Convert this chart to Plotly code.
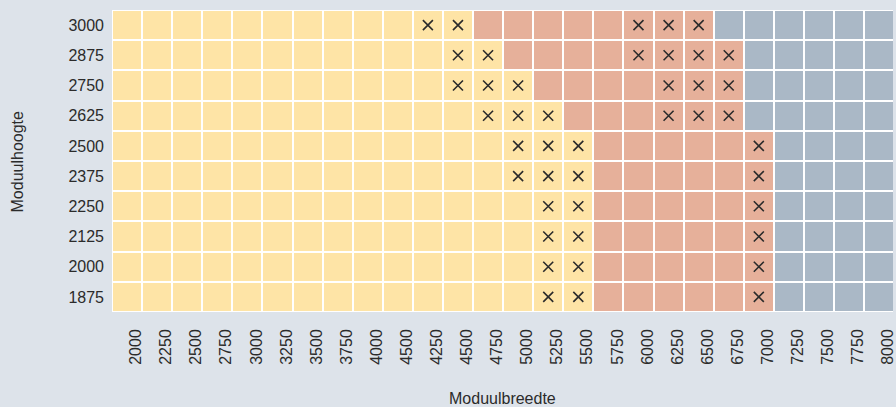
import plotly.graph_objects as go

# ---- data ----
x_labels = ["2000", "2250", "2500", "2750", "3000", "3250", "3500", "3750", "4000",
            "4500", "4250", "4500", "4750", "5000", "5250", "5500", "5750", "6000",
            "6250", "6500", "6750", "7000", "7250", "7500", "7750", "8000"]
y_labels = ["3000", "2875", "2750", "2625", "2500", "2375", "2250", "2125", "2000", "1875"]

# zone code per cell (0 = yellow, 1 = salmon, 2 = grey-blue), rows top to bottom
zone_3000 = [0]*12 + [1]*8 + [2]*6
zone_2875 = [0]*13 + [1]*8 + [2]*5
zone_2750 = [0]*14 + [1]*7 + [2]*5
zone_2625 = [0]*15 + [1]*6 + [2]*5
zone_2500 = [0]*16 + [1]*6 + [2]*4
zone_2375 = [0]*16 + [1]*6 + [2]*4
zone_2250 = [0]*16 + [1]*6 + [2]*4
zone_2125 = [0]*16 + [1]*6 + [2]*4
zone_2000 = [0]*16 + [1]*6 + [2]*4
zone_1875 = [0]*16 + [1]*6 + [2]*4
zones = [zone_3000, zone_2875, zone_2750, zone_2625, zone_2500,
         zone_2375, zone_2250, zone_2125, zone_2000, zone_1875]

# column indices carrying an "x" mark, per row (top to bottom)
marks_3000 = [10, 11, 17, 18, 19]
marks_2875 = [11, 12, 17, 18, 19, 20]
marks_2750 = [11, 12, 13, 18, 19, 20]
marks_2625 = [12, 13, 14, 18, 19, 20]
marks_2500 = [13, 14, 15, 21]
marks_2375 = [13, 14, 15, 21]
marks_2250 = [14, 15, 21]
marks_2125 = [14, 15, 21]
marks_2000 = [14, 15, 21]
marks_1875 = [14, 15, 21]
marks = [marks_3000, marks_2875, marks_2750, marks_2625, marks_2500,
         marks_2375, marks_2250, marks_2125, marks_2000, marks_1875]

zone_colors = ["#fee4a6", "#e6b09a", "#aab8c6"]

FONT = "Liberation Sans, Arial, Helvetica, sans-serif"
TXT = "#2b2b2b"
BG = "#dde3ea"

x_idx = list(range(len(x_labels)))

fig = go.Figure()
fig.add_trace(go.Heatmap(
    z=zones, x=x_idx, y=y_labels,
    colorscale=[[0, zone_colors[0]], [0.5, zone_colors[1]], [1, zone_colors[2]]],
    zmin=0, zmax=2, showscale=False, xgap=2, ygap=2, hoverinfo="skip",
))

mx, my = [], []
for row_label, cols in zip(y_labels, marks):
    for c in cols:
        mx.append(c)
        my.append(row_label)
fig.add_trace(go.Scatter(
    x=mx, y=my, mode="markers", hoverinfo="skip",
    marker=dict(symbol="x-thin", size=10, color=TXT, line=dict(width=1.6, color=TXT)),
))

fig.update_layout(
    width=896, height=407,
    margin=dict(l=112, r=0, t=10, b=95),
    paper_bgcolor=BG, plot_bgcolor="#ffffff",
    showlegend=False,
    font=dict(family=FONT, size=16, color=TXT),
    annotations=[
        dict(text="Moduulhoogte", xref="paper", yref="paper", x=-0.121, y=0.5,
             textangle=-90, showarrow=False, xanchor="center", yanchor="middle",
             font=dict(size=16, color=TXT)),
        dict(text="Moduulbreedte", xref="paper", yref="paper", x=0.5, y=-0.288,
             showarrow=False, xanchor="center", yanchor="middle",
             font=dict(size=16, color=TXT)),
    ],
)
fig.update_xaxes(
    range=[-0.5, 25.46], tickmode="array", tickvals=x_idx, ticktext=x_labels,
    tickangle=-90, showgrid=False, zeroline=False, showline=False, ticks="",
    ticklabelshift=9, ticklabelstandoff=13, ticklabeloverflow="allow",
)
fig.update_yaxes(
    type="category", categoryorder="array", categoryarray=y_labels,
    range=[len(y_labels) - 0.5, -0.5], showgrid=False, zeroline=False,
    showline=False, ticks="", ticklabelstandoff=7,
)

fig.write_html(
    "out.html",
    config={"displayModeBar": False},
    post_script="document.body.style.margin='0';document.body.style.overflow='hidden';"
                "document.body.style.background='" + BG + "';",
)
